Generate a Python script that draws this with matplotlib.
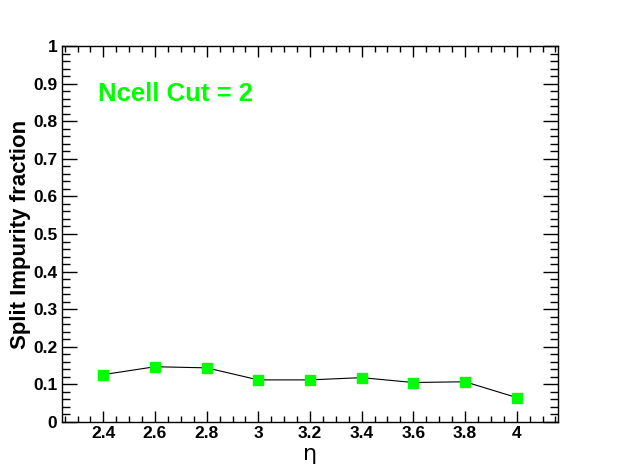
import matplotlib
matplotlib.use("Agg")
import matplotlib.pyplot as plt
from matplotlib.ticker import MultipleLocator, FixedLocator

eta = [2.4, 2.6, 2.8, 3.0, 3.2, 3.4, 3.6, 3.8, 4.0]
impurity = [0.126, 0.147, 0.144, 0.112, 0.112, 0.118, 0.105, 0.107, 0.065]
xtick_labels = ["2.4", "2.6", "2.8", "3", "3.2", "3.4", "3.6", "3.8", "4"]
ytick_vals = [0, 0.1, 0.2, 0.3, 0.4, 0.5, 0.6, 0.7, 0.8, 0.9, 1.0]
ytick_labels = ["0", "0.1", "0.2", "0.3", "0.4", "0.5", "0.6", "0.7", "0.8", "0.9", "1"]

plt.rcParams['font.family'] = ['Liberation Sans', 'DejaVu Sans']

W, H = 621, 469
fig = plt.figure(figsize=(W / 100, H / 100), dpi=100)
L, R, T, B = 62, 558, 46, 422
ax = fig.add_axes([L / W, (H - B) / H, (R - L) / W, (B - T) / H])

ax.plot(eta, impurity, color='black', lw=0.8, marker='s', markersize=7.3,
        markerfacecolor='#00ff00', markeredgecolor='#00ff00', zorder=3)

ax.set_xlim(2.24, 4.16)
ax.set_ylim(0, 1)

ax.xaxis.set_major_locator(FixedLocator(eta))
ax.set_xticklabels(xtick_labels)
ax.xaxis.set_minor_locator(MultipleLocator(0.05))
ax.yaxis.set_major_locator(FixedLocator(ytick_vals))
ax.set_yticklabels(ytick_labels)
ax.yaxis.set_minor_locator(MultipleLocator(0.02))

for s in ax.spines.values():
    s.set_linewidth(1.0)

ax.tick_params(axis='both', which='both', direction='in', top=True, right=True,
               width=1.0, labelsize=12.5)
ax.tick_params(axis='x', which='major', length=8.2, pad=3)
ax.tick_params(axis='x', which='minor', length=4.2)
ax.tick_params(axis='y', which='major', length=11, pad=3.5)
ax.tick_params(axis='y', which='minor', length=5.5)
for lab in ax.get_xticklabels() + ax.get_yticklabels():
    lab.set_fontweight('bold')

fig.text(21 / W, 1 - 234 / H, "Split Impurity fraction", fontsize=16,
         fontweight='bold', rotation=90, ha='center', va='center')

fig.text(310 / W, 1 - 444 / H, "η", fontsize=16, ha='center', va='top',
         family=['DejaVu Sans'])

ax.text(98 / W, 1 - 101 / H, "Ncell Cut = 2", transform=fig.transFigure,
        fontsize=18.5, fontweight='bold', color='#00ff00', ha='left', va='baseline')

fig.savefig("out.png", dpi=100)
